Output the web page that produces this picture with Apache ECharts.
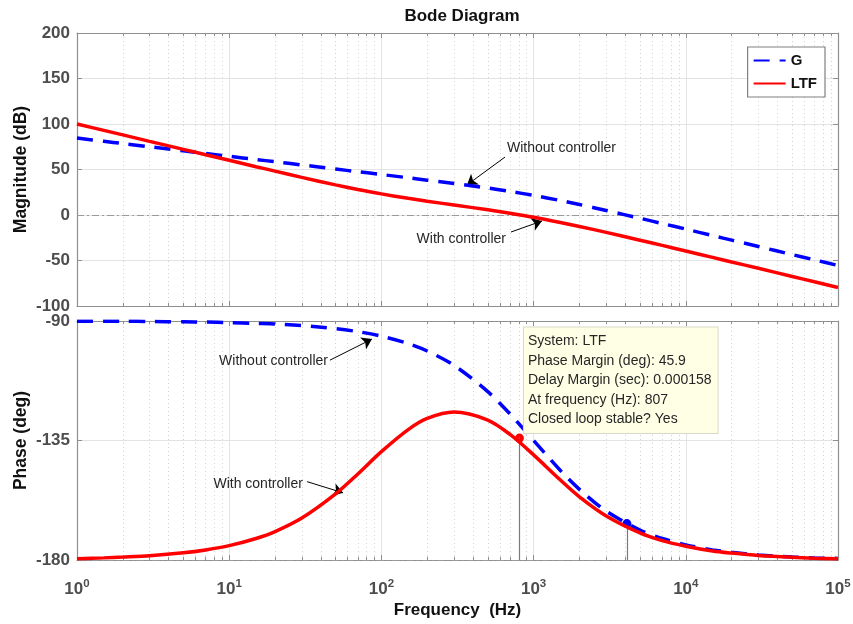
<!DOCTYPE html>
<html>
<head>
<meta charset="utf-8">
<script src="https://cdn.jsdelivr.net/npm/echarts@6/dist/echarts.min.js"></script>
<style>html,body{margin:0;padding:0;background:#fff;}#c{width:853px;height:624px;}</style>
</head>
<body>
<div id="c"></div>
<script>
// ---- data ----
const freq = [1,1.5,2,3,5,7,10,15,20,30,50,70,100,150,200,300,500,700,1000,1500,2000,3000,5000,7000,10000,15000,20000,30000,50000,70000,100000];
const magG = [84.5,81.0,78.5,75.0,70.5,67.6,64.5,61.0,58.5,55.0,50.5,47.6,44.5,40.9,38.3,34.6,29.6,25.9,21.5,15.9,11.5,5.0,-3.6,-9.4,-15.5,-22.6,-27.6,-34.6,-43.5,-49.3,-55.5];
const magLTF = [100.0,93.0,88.0,80.9,72.1,66.2,60.1,53.1,48.2,41.3,33.1,28.1,23.2,18.3,15.1,11.0,5.7,1.9,-2.5,-8.2,-12.6,-19.1,-27.7,-33.4,-39.6,-46.6,-51.6,-58.6,-67.5,-73.4,-79.6];
const phaseG = [-90.1,-90.1,-90.1,-90.2,-90.3,-90.4,-90.6,-90.9,-91.1,-91.7,-92.9,-94.0,-95.7,-98.5,-101.3,-106.7,-116.6,-125.0,-135.0,-146.3,-153.4,-161.6,-168.7,-171.9,-174.3,-176.2,-177.1,-178.1,-178.9,-179.2,-179.4];
const phaseLTF = [-179.5,-179.2,-178.9,-178.4,-177.3,-176.2,-174.6,-171.9,-169.3,-164.2,-155.1,-147.6,-139.2,-130.9,-126.7,-124.3,-127.3,-132.7,-140.4,-149.9,-156.2,-163.4,-169.8,-172.7,-174.8,-176.6,-177.4,-178.3,-179.0,-179.3,-179.5];
const minorFreqs = [2,3,4,5,6,7,8,9,20,30,40,50,60,70,80,90,200,300,400,500,600,700,800,900,2000,3000,4000,5000,6000,7000,8000,9000,20000,30000,40000,50000,60000,70000,80000,90000];
const magTicks = {min:-100, max:200, interval:50};
const phaseTicks = {min:-180, max:-90, interval:45};
// margins
const pmLTF = {freq:807, phase:-134.1};
const pmG = {freq:4100, phase:-166.3};
const tipLines = ['System: LTF','Phase Margin (deg): 45.9','Delay Margin (sec): 0.000158','At frequency (Hz): 807','Closed loop stable? Yes'];
// annotations: text anchor, arrow tail, arrow head (data coordinates)
const annMag = [
  {text:'Without controller', at:[669,73.6], side:'right', tail:[649,63.7], head:[365,33]},
  {text:'With controller', at:[659,-26.4], side:'left', tail:[710,-18.7], head:[1135,-6.6]}
];
const annPhase = [
  {text:'Without controller', at:[44.6,-105.1], side:'left', tail:[45.9,-104.75], head:[86.7,-96.8]},
  {text:'With controller', at:[30.5,-151.3], side:'left', tail:[32.5,-150.5], head:[56,-154.7]}
];

const FONT = '"Liberation Sans", Arial, Helvetica, sans-serif';
const frameColor = '#8f8f8f';
const tickLabelColor = '#4d4d4d';

const pairs = (ys) => freq.map((f,i)=>[f, ys[i]]);

function xAxisDef(gridIndex, position, withLabels) {
  const a = {
    type:'log', logBase:10, min:1, max:100000, gridIndex, position,
    axisLine:{show:true, onZero:false, lineStyle:{color:frameColor, width:1.2}},
    axisTick:{show:true, inside:true, length:5, lineStyle:{color:frameColor}},
    axisLabel:{show:false},
    splitLine:{show:false}
  };
  if (position === 'bottom') {
    a.splitLine = {show:true, lineStyle:{color:'#e3e3e3', width:1}};
  }
  if (withLabels) {
    a.axisLabel = {
      show:true, margin:18, fontFamily:FONT,
      formatter:(v)=>'{b|10}{s|' + Math.round(Math.log10(v)) + '}',
      rich:{
        b:{fontSize:17, fontWeight:'bold', color:tickLabelColor, fontFamily:FONT},
        s:{fontSize:11.5, fontWeight:'bold', color:tickLabelColor, fontFamily:FONT, padding:[0,0,10,0]}
      }
    };
    a.name = 'Frequency  (Hz)';
    a.nameLocation = 'middle';
    a.nameGap = 42;
    a.nameTextStyle = {fontFamily:FONT, fontSize:17, fontWeight:'bold', color:'#111'};
  }
  return a;
}
function yAxisDef(gridIndex, position, ticks, name) {
  const a = {
    type:'value', gridIndex, position, min:ticks.min, max:ticks.max, interval:ticks.interval,
    axisLine:{show:true, onZero:false, lineStyle:{color:frameColor, width:1.2}},
    axisTick:{show:true, inside:true, length:5, lineStyle:{color:frameColor}},
    axisLabel:{show:false},
    splitLine:{show:false}
  };
  if (name) {
    a.name = name; a.nameLocation = 'middle'; a.nameGap = 47; a.nameMoveOverlap = false;
    a.nameTextStyle = {fontFamily:FONT, fontSize:17.5, fontWeight:'bold', color:'#111'};
    a.axisLabel = {show:true, margin:7, fontFamily:FONT, fontSize:17, fontWeight:'bold', color:tickLabelColor};
    a.splitLine = {show:true, lineStyle:{color:'#e3e3e3', width:1}};
  }
  return a;
}

function minorGridSeries(xi, yi) {
  return {
    type:'line', xAxisIndex:xi, yAxisIndex:yi, data:[], silent:true,
    markLine:{silent:true, symbol:'none', animation:false, label:{show:false},
      lineStyle:{type:[1,3], color:'#d4d4d4', width:1},
      emphasis:{disabled:true},
      data:minorFreqs.map(f=>({xAxis:f}))}
  };
}
function minorTickSeries(xi, yi, ymin, ymax, len) {
  const d = [];
  minorFreqs.forEach(f=>{
    d.push([{coord:[f,ymin]},{coord:[f,ymin+len]}]);
    d.push([{coord:[f,ymax]},{coord:[f,ymax-len]}]);
  });
  return {
    type:'line', xAxisIndex:xi, yAxisIndex:yi, data:[], silent:true,
    markLine:{silent:true, symbol:'none', animation:false, label:{show:false},
      lineStyle:{type:'solid', color:frameColor, width:1}, emphasis:{disabled:true}, data:d}
  };
}
function refLineSeries(xi, yi, yv) {
  return {
    type:'line', xAxisIndex:xi, yAxisIndex:yi, data:[], silent:true, z:3,
    markLine:{silent:true, symbol:'none', animation:false, label:{show:false},
      lineStyle:{type:[7,3,2,3], color:'#9a9a9a', width:1.2}, emphasis:{disabled:true},
      data:[{yAxis:yv}]}
  };
}
function annSeries(xi, yi, anns) {
  return {
    type:'line', xAxisIndex:xi, yAxisIndex:yi, data:[], silent:true, z:20,
    markPoint:{silent:true, animation:false, symbol:'circle', symbolSize:0,
      data:anns.map(a=>({coord:a.at, label:{show:true, position:a.side, distance:0, formatter:a.text,
        fontFamily:FONT, fontSize:14, color:'#262626'}}))},
    markLine:{silent:true, animation:false, symbol:['none','arrow'], symbolSize:10,
      label:{show:false}, itemStyle:{color:'#000'}, lineStyle:{type:'solid', color:'#000', width:1}, emphasis:{disabled:true},
      data:anns.map(a=>[{coord:a.tail},{coord:a.head}])}
  };
}

const blue = '#0000ff', red = '#ff0000';
const option = {
  animation:false,
  backgroundColor:'#fff',
  title:{text:'Bode Diagram', left:457, top:3, textAlign:'center', textStyle:{fontFamily:FONT, fontSize:17, fontWeight:'bold', color:'#111'}},
  legend:{
    data:['G','LTF'], orient:'vertical', right:28, top:47, itemWidth:32, itemHeight:14, itemGap:8, z:50,
    padding:[6,8,6,5], borderColor:'#808080', borderWidth:1.2, backgroundColor:'#fff',
    itemStyle:{opacity:0},
    textStyle:{fontFamily:FONT, fontSize:15, fontWeight:'bold', color:'#111'}
  },
  grid:[
    {left:77, top:33, width:761, height:273, outerBoundsMode:'none', show:true, borderColor:frameColor, borderWidth:0, backgroundColor:'#fff'},
    {left:77, top:321, width:761, height:239, outerBoundsMode:'none', show:true, borderColor:frameColor, borderWidth:0, backgroundColor:'#fff'}
  ],
  xAxis:[
    xAxisDef(0,'bottom',false),
    xAxisDef(0,'top',false),
    xAxisDef(1,'bottom',true),
    xAxisDef(1,'top',false)
  ],
  yAxis:[
    yAxisDef(0,'left',magTicks,'Magnitude (dB)'),
    yAxisDef(0,'right',magTicks,null),
    yAxisDef(1,'left',phaseTicks,'Phase (deg)'),
    yAxisDef(1,'right',phaseTicks,null)
  ],
  series:[
    minorGridSeries(0,0),
    minorGridSeries(2,2),
    minorTickSeries(0,0,magTicks.min,magTicks.max,3.3),
    minorTickSeries(2,2,phaseTicks.min,phaseTicks.max,1.2),
    refLineSeries(0,0,0),
    refLineSeries(2,2,-180),
    {name:'G', type:'line', xAxisIndex:0, yAxisIndex:0, data:pairs(magG), smooth:0.3, symbol:'none', z:5,
      lineStyle:{color:blue, width:3.5, type:[16,10]}, itemStyle:{color:blue}},
    {name:'LTF', type:'line', xAxisIndex:0, yAxisIndex:0, data:pairs(magLTF), smooth:0.3, symbol:'none', z:6,
      lineStyle:{color:red, width:3.5}, itemStyle:{color:red}},
    {name:'G', type:'line', xAxisIndex:2, yAxisIndex:2, data:pairs(phaseG), smooth:0.3, symbol:'none', z:5,
      lineStyle:{color:blue, width:3.5, type:[16,10]}, itemStyle:{color:blue},
      markLine:{silent:true, animation:false, symbol:'none', label:{show:false},
        lineStyle:{type:'solid', color:'#7a7a7a', width:1.2}, emphasis:{disabled:true},
        data:[[{coord:[pmG.freq,pmG.phase]},{coord:[pmG.freq,phaseTicks.min]}]]},
      markPoint:{silent:true, animation:false, symbol:'circle', symbolSize:9, itemStyle:{color:blue},
        label:{show:false}, data:[{coord:[pmG.freq,pmG.phase]}]}},
    {name:'LTF', type:'line', xAxisIndex:2, yAxisIndex:2, data:pairs(phaseLTF), smooth:0.3, symbol:'none', z:6,
      lineStyle:{color:red, width:3.5}, itemStyle:{color:red},
      markLine:{silent:true, animation:false, symbol:'none', label:{show:false},
        lineStyle:{type:'solid', color:'#7a7a7a', width:1.2}, emphasis:{disabled:true},
        data:[[{coord:[pmLTF.freq,pmLTF.phase]},{coord:[pmLTF.freq,phaseTicks.min]}]]},
      markPoint:{silent:true, animation:false, symbol:'circle', symbolSize:9, itemStyle:{color:red},
        label:{show:false}, data:[{coord:[pmLTF.freq,pmLTF.phase]}]}},
    // data tip
    {type:'line', xAxisIndex:2, yAxisIndex:2, data:[], silent:true, z:30,
      markPoint:{silent:true, animation:false, symbol:'circle', symbolSize:1, z:30,
        data:[{coord:[pmLTF.freq,pmLTF.phase], label:{show:true, position:[5,-110], align:'left', verticalAlign:'top',
          formatter:tipLines.join('\n'), fontFamily:FONT, fontSize:14, lineHeight:19.5, color:'#262626',
          backgroundColor:'#ffffe6', borderColor:'#d8d8c8', borderWidth:1, padding:[4,6,4,4]}}]}},
    annSeries(0,0,annMag),
    annSeries(2,2,annPhase)
  ]
};
const chart = echarts.init(document.getElementById('c'), null, {renderer:'canvas'});
chart.setOption(option);
</script>
</body>
</html>
